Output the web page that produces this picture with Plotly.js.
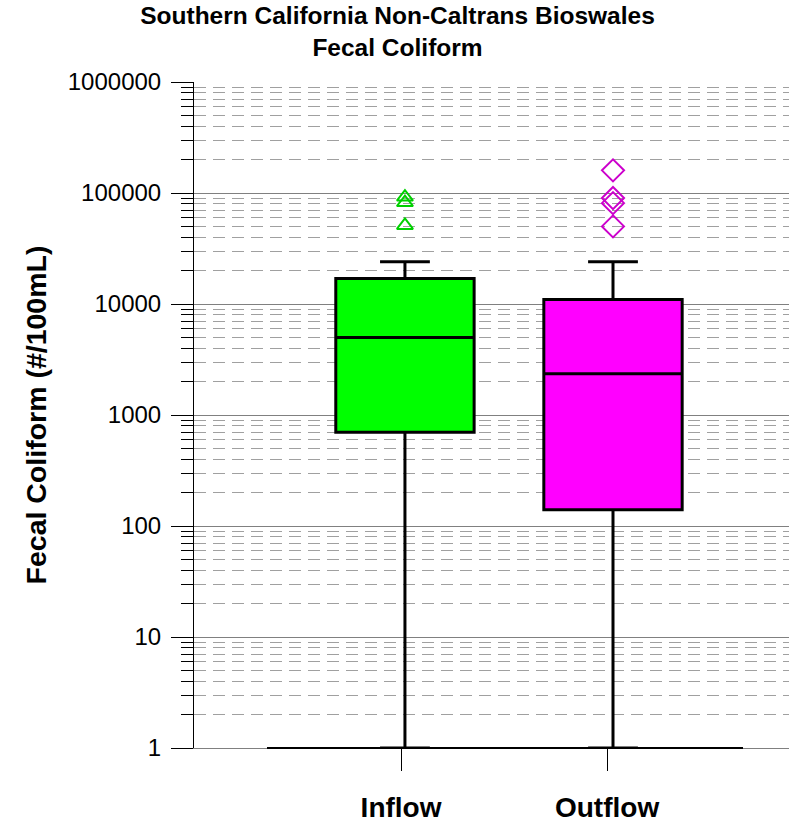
<!DOCTYPE html>
<html>
<head>
<meta charset="utf-8">
<script src="https://cdn.plot.ly/plotly-3.0.1.min.js"></script>
<style>html,body{margin:0;padding:0;background:#fff;}#chart{width:795px;height:822px;}</style>
</head>
<body>
<div id="chart"></div>
<script>
// ---- data ----
var categories = ['Inflow', 'Outflow'];
var boxColors = ['#00ff00', '#ff00ff'];
var lowerFence = [1, 1];
var q1 = [700, 140];
var median = [5000, 2350];
var q3 = [17000, 11000];
var upperFence = [24000, 24000];
var inflowOutliers = [92000, 82000, 51000];
var outflowOutliers = [160000, 90000, 81000, 50000];
var yTickVals = [1, 10, 100, 1000, 10000, 100000, 1000000];
var yTickText = ['1', '10', '100', '1000', '10000', '100000', '1000000'];

var traces = [];
// invisible anchor trace so the labelled category axis has its categories
traces.push({
  type: 'scatter', mode: 'markers', xaxis: 'x', yaxis: 'y',
  x: categories, y: median,
  marker: {opacity: 0, size: 1},
  showlegend: false, hoverinfo: 'skip'
});
for (var i = 0; i < categories.length; i++) {
  traces.push({
    type: 'box',
    xaxis: 'x2', yaxis: 'y',
    x: [categories[i]],
    q1: [q1[i]], median: [median[i]], q3: [q3[i]],
    lowerfence: [lowerFence[i]], upperfence: [upperFence[i]],
    width: 0.665,
    whiskerwidth: 0.36,
    fillcolor: boxColors[i],
    line: {color: '#000000', width: 3},
    boxpoints: false,
    hoverinfo: 'skip',
    showlegend: false
  });
}
traces.push({
  type: 'scatter', mode: 'markers', xaxis: 'x2', yaxis: 'y',
  x: inflowOutliers.map(function(){return categories[0];}),
  y: inflowOutliers,
  marker: {symbol: 'triangle-up-open', size: 14, color: '#00d000', line: {width: 2, color: '#00d000'}},
  showlegend: false, hoverinfo: 'skip'
});
traces.push({
  type: 'scatter', mode: 'markers', xaxis: 'x2', yaxis: 'y',
  x: outflowOutliers.map(function(){return categories[1];}),
  y: outflowOutliers,
  marker: {symbol: 'diamond-open', size: 17, color: '#cc00cc', line: {width: 2, color: '#cc00cc'}},
  showlegend: false, hoverinfo: 'skip'
});

var layout = {
  width: 795, height: 822,
  margin: {l: 194, r: 6, t: 82, b: 74},
  paper_bgcolor: '#ffffff', plot_bgcolor: '#ffffff',
  font: {family: 'Liberation Sans, Arial, sans-serif', color: '#000000'},
  title: {
    text: '<b>Southern California Non-Caltrans Bioswales<br>Fecal Coliform</b>',
    x: 0.5, xref: 'container', xanchor: 'center',
    y: 0.971, yref: 'container', yanchor: 'middle',
    font: {size: 24.5, family: 'Liberation Sans, Arial, sans-serif', color: '#000000'}
  },
  xaxis: {
    type: 'category',
    categoryarray: categories, categoryorder: 'array',
    range: [-1.005, 1.883],
    tickvals: categories,
    ticktext: categories.map(function(c){return '<b>' + c + '</b>';}),
    ticks: 'outside', ticklen: 22, tickwidth: 1, tickcolor: '#000000',
    ticklabelstandoff: 12,
    tickfont: {size: 28, family: 'Liberation Sans, Arial, sans-serif', color: '#000000'},
    showgrid: false, zeroline: false,
    showline: true, linecolor: '#808080', linewidth: 1,
    fixedrange: true
  },
  xaxis2: {
    type: 'category',
    categoryarray: categories, categoryorder: 'array',
    overlaying: 'x', anchor: 'y',
    range: [-1.014, 1.846],
    showticklabels: false, ticks: '', showgrid: false, zeroline: false, showline: false,
    fixedrange: true
  },
  yaxis: {
    type: 'log',
    range: [0, 6],
    tickvals: yTickVals, ticktext: yTickText,
    ticks: 'outside', ticklen: 22, tickwidth: 1, tickcolor: '#000000',
    ticklabelstandoff: 5,
    tickfont: {size: 24, family: 'Liberation Sans, Arial, sans-serif', color: '#000000'},
    showgrid: true, gridcolor: '#808080', gridwidth: 1,
    zeroline: false,
    showline: true, linecolor: '#000000', linewidth: 1,
    minor: {
      dtick: 'D1',
      ticks: 'outside', ticklen: 12, tickwidth: 1, tickcolor: '#000000',
      showgrid: true, gridcolor: '#a0a0a0', gridwidth: 1, griddash: '12px,7px'
    },
    title: {
      text: '<b>Fecal Coliform (#/100mL)</b>',
      standoff: 12,
      font: {size: 28.5, family: 'Liberation Sans, Arial, sans-serif', color: '#000000'}
    },
    fixedrange: true
  },
  shapes: [{
    type: 'line', xref: 'paper', yref: 'paper',
    x0: 0.1227, x1: 0.9227, y0: 0, y1: 0,
    line: {color: '#000000', width: 2},
    layer: 'above'
  }]
};

Plotly.newPlot('chart', traces, layout, {staticPlot: true, displayModeBar: false});
</script>
</body>
</html>
